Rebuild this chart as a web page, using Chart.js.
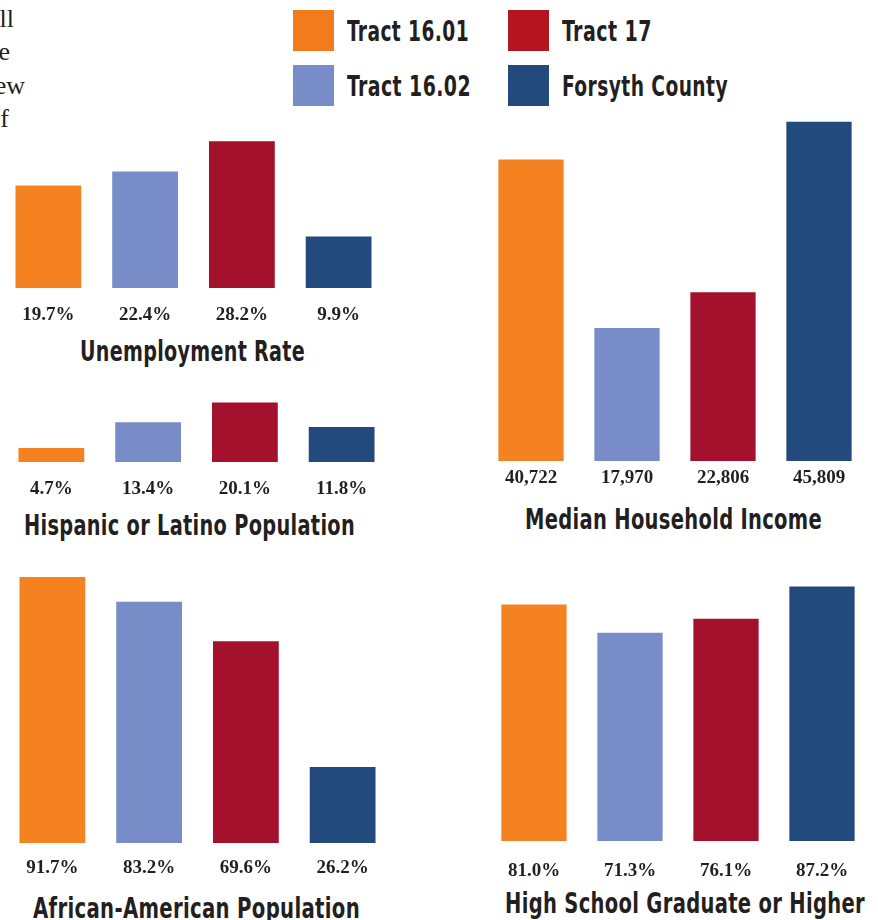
<!DOCTYPE html>
<html>
<head>
<meta charset="utf-8">
<script src="https://cdn.jsdelivr.net/npm/chart.js@4/dist/chart.umd.min.js"></script>
<style>
  html, body { margin: 0; padding: 0; background: #fff; }
  body { width: 878px; height: 920px; position: relative; overflow: hidden; }
  .frag { position: absolute; font-family: "Liberation Serif", serif; font-size: 26px; color: #231f20; text-align: right; white-space: nowrap; line-height: 1; }
  .sw { position: absolute; width: 41px; height: 41px; }
  .cond { position: absolute; display: inline-block; font-family: "DejaVu Sans Condensed", "DejaVu Sans", sans-serif; font-weight: bold; color: #231f20; white-space: nowrap; transform-origin: 0 0; }
  .lg { font-size: 29px; line-height: 29px; letter-spacing: 0.6px; }
  .ttl { font-size: 28px; line-height: 28px; letter-spacing: 0.4px; }
  canvas { position: absolute; }
</style>
</head>
<body>
<!-- paragraph cut off at the left edge -->
<div class="frag" style="left:-200px; width:214px; top:6px;">all</div>
<div class="frag" style="left:-200px; width:210px; top:39px;">the</div>
<div class="frag" style="left:-200px; width:225px; top:73px;">few</div>
<div class="frag" style="left:-200px; width:209px; top:106px;">of</div>

<script>
const categories = ['Tract 16.01', 'Tract 16.02', 'Tract 17', 'Forsyth County'];
const barColors = ['#f58220', '#788dc8', '#a3112d', '#234a7c'];
const legendColors = ['#f47b1b', '#788dc8', '#b5151f', '#234a7c'];

const unemploymentRate = [19.7, 22.4, 28.2, 9.9];
const hispanicPop = [4.7, 13.4, 20.1, 11.8];
const medianIncome = [40722, 17970, 22806, 45809];
const africanAmericanPop = [91.7, 83.2, 69.6, 26.2];
const hsGradOrHigher = [81.0, 71.3, 76.1, 87.2];

const VALUE_FONT = '"Liberation Serif", serif';
const pct = v => v.toFixed(1) + '%';
const dollars = v => v.toLocaleString('en-US');

// squeeze a text element horizontally to a given width (no narrow font installed)
function placeText(cls, text, x, y, w) {
  const el = document.createElement('div');
  el.className = 'cond ' + cls;
  el.textContent = text;
  el.style.left = x + 'px';
  el.style.top = y + 'px';
  document.body.appendChild(el);
  const natural = el.getBoundingClientRect().width;
  el.style.transform = `scaleX(${w / natural})`;
  return el;
}

// legend (two columns, two rows)
const legendPos = [[293, 10], [293, 65], [508, 10], [508, 65]];
const legendTextW = [122, 124, 90, 166];
categories.forEach((name, i) => {
  const [x, y] = legendPos[i];
  const sw = document.createElement('div');
  sw.className = 'sw';
  sw.style.left = x + 'px';
  sw.style.top = y + 'px';
  sw.style.background = legendColors[i];
  document.body.appendChild(sw);
  placeText('lg', name, x + 54, y + 7, legendTextW[i]);
});

// value under each bar
const valueLabels = {
  id: 'valueLabels',
  afterDatasetsDraw(chart, args, opts) {
    const ctx = chart.ctx;
    const meta = chart.getDatasetMeta(0);
    const data = chart.data.datasets[0].data;
    ctx.save();
    ctx.font = 'bold 19px ' + VALUE_FONT;
    ctx.fillStyle = '#231f20';
    ctx.textAlign = 'center';
    ctx.textBaseline = 'alphabetic';
    meta.data.forEach((bar, i) => {
      ctx.fillText(opts.fmt(data[i]), bar.x, chart.chartArea.bottom + opts.offset);
    });
    ctx.restore();
  }
};

function makeBarChart(cfg) {
  const pad = cfg.labelOffset + 10;
  const h = cfg.areaHeight + pad;
  const canvas = document.createElement('canvas');
  canvas.width = cfg.width;
  canvas.height = h;
  canvas.style.left = cfg.left + 'px';
  canvas.style.top = cfg.top + 'px';
  canvas.style.width = cfg.width + 'px';
  canvas.style.height = h + 'px';
  document.body.appendChild(canvas);
  placeText('ttl', cfg.title, cfg.titleX, cfg.titleY, cfg.titleW);
  return new Chart(canvas.getContext('2d'), {
    type: 'bar',
    data: {
      labels: categories,
      datasets: [{ data: cfg.values, backgroundColor: barColors, borderWidth: 0, barPercentage: 0.68, categoryPercentage: 1 }]
    },
    options: {
      responsive: false,
      animation: false,
      devicePixelRatio: 1,
      layout: { padding: { top: 0, left: 0, right: 0, bottom: pad } },
      scales: {
        x: { display: false },
        y: { display: false, min: 0, max: cfg.max }
      },
      plugins: {
        legend: { display: false },
        tooltip: { enabled: false },
        title: { display: false },
        valueLabels: { fmt: cfg.fmt, offset: cfg.labelOffset }
      }
    },
    plugins: [valueLabels]
  });
}

makeBarChart({ values: unemploymentRate, max: 30, left: 0, top: 132, width: 387, areaHeight: 156,
  title: 'Unemployment Rate', titleX: 80, titleY: 338, titleW: 225, labelOffset: 32, fmt: pct });
makeBarChart({ values: hispanicPop, max: 25, left: 3, top: 388, width: 387, areaHeight: 74,
  title: 'Hispanic or Latino Population', titleX: 24, titleY: 512, titleW: 331, labelOffset: 32, fmt: pct });
makeBarChart({ values: medianIncome, max: 47000, left: 483, top: 113, width: 384, areaHeight: 348,
  title: 'Median Household Income', titleX: 525, titleY: 506, titleW: 297, labelOffset: 22, fmt: dollars });
makeBarChart({ values: africanAmericanPop, max: 100, left: 4, top: 553, width: 387, areaHeight: 290,
  title: 'African-American Population', titleX: 33, titleY: 895, titleW: 327, labelOffset: 30, fmt: pct });
makeBarChart({ values: hsGradOrHigher, max: 100, left: 486, top: 549, width: 384, areaHeight: 292,
  title: 'High School Graduate or Higher', titleX: 505, titleY: 890, titleW: 360, labelOffset: 35, fmt: pct });
</script>
</body>
</html>
